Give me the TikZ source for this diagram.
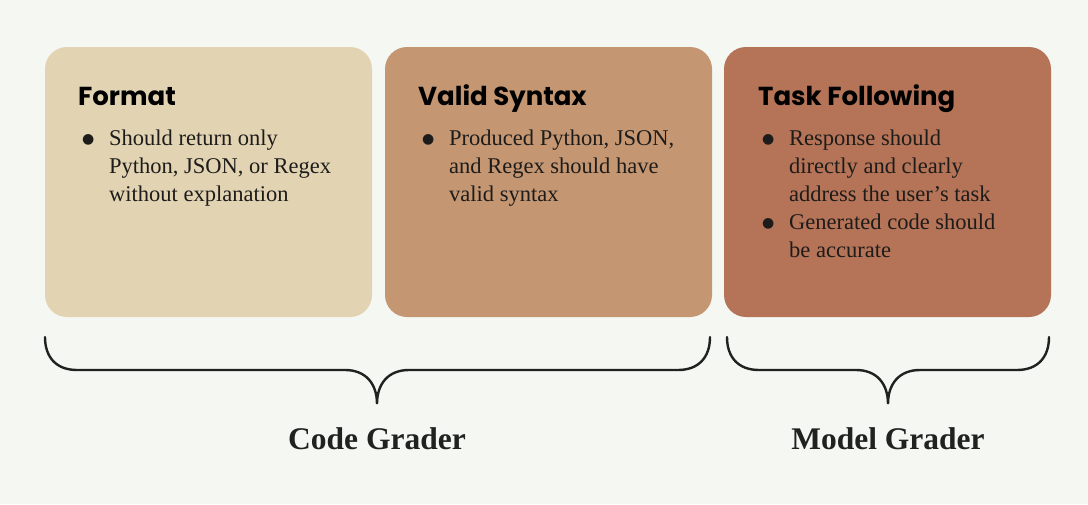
\documentclass[tikz,border=0pt]{standalone}
\usepackage{fontspec}
\setmainfont{Liberation Serif}
\newfontfamily\titlefont{Poppins}
\newfontfamily\symfont{DejaVu Sans}
\definecolor{bgc}{HTML}{F4F7F2}
\definecolor{cardA}{HTML}{E2D4B3}
\definecolor{cardB}{HTML}{C49672}
\definecolor{cardC}{HTML}{B57357}
\definecolor{bodytext}{HTML}{1E1C1A}
\definecolor{bracec}{HTML}{1E2320}
\newcommand{\bulitem}[1]{\makebox[27pt][l]{\raisebox{1.2pt}{\symfont\fontsize{14}{14}\selectfont ●}}\parbox[t]{290pt}{\raggedright\fontsize{22.5}{28}\selectfont #1}}
\begin{document}
\begin{tikzpicture}[x=1pt,y=-1pt,
  card/.style={rounded corners=22pt, minimum width=327pt, minimum height=270pt, inner sep=0pt, draw=none},
  cardtitle/.style={anchor=base west, inner sep=0pt, font=\titlefont\bfseries\fontsize{26}{30}\selectfont, text=black},
  body/.style={anchor=base west, inner sep=0pt, font=\fontsize{22.5}{28}\selectfont, text=bodytext},
  bracestroke/.style={line width=2.4pt, draw=bracec, line cap=round},
  grader/.style={font=\bfseries\fontsize{31.5}{34}\selectfont, anchor=base, inner sep=0pt, text=bracec}]
\useasboundingbox (0,0) rectangle (1088,504);
\fill[bgc] (0,0) rectangle (1088,504);
% cards
\node[card, fill=cardA] (b1) at (208.5,182) {};
\node[card, fill=cardB] (b2) at (548.5,182) {};
\node[card, fill=cardC] (b3) at (887.5,182) {};
% titles
\node[cardtitle] (h1) at (78,105) {Format};
\node[cardtitle] (h2) at (418,105) {Valid Syntax};
\node[cardtitle] (h3) at (758,105) {Task Following};
% bodies
\node[body] (t1) at (82,145) {\bulitem{Should return only\\Python, JSON, or Regex\\without explanation}};
\node[body] (t2) at (422,145) {\bulitem{Produced Python, JSON,\\and Regex should have\\valid syntax}};
\node[body] (t3) at (762,145) {\bulitem{Response should\\directly and clearly\\address the user’s task}};
\node[body] (t4) at (762,229) {\bulitem{Generated code should\\be accurate}};
% braces
\draw[bracestroke] (45,337) .. controls (45,358) and (57,370) .. (77,370) -- (345,370)
  .. controls (366,370) and (377,384) .. (377,404)
  .. controls (377,384) and (388,370) .. (409,370) -- (678,370)
  .. controls (698,370) and (710,358) .. (710,337);
\draw[bracestroke] (727,337) .. controls (727,358) and (739,370) .. (759,370) -- (856,370)
  .. controls (877,370) and (888,384) .. (888,404)
  .. controls (888,384) and (899,370) .. (920,370) -- (1017,370)
  .. controls (1037,370) and (1049,358) .. (1049,337);
% labels
\node[grader] (g1) at (377,449) {Code Grader};
\node[grader] (g2) at (888,449) {Model Grader};
\end{tikzpicture}
\end{document}
